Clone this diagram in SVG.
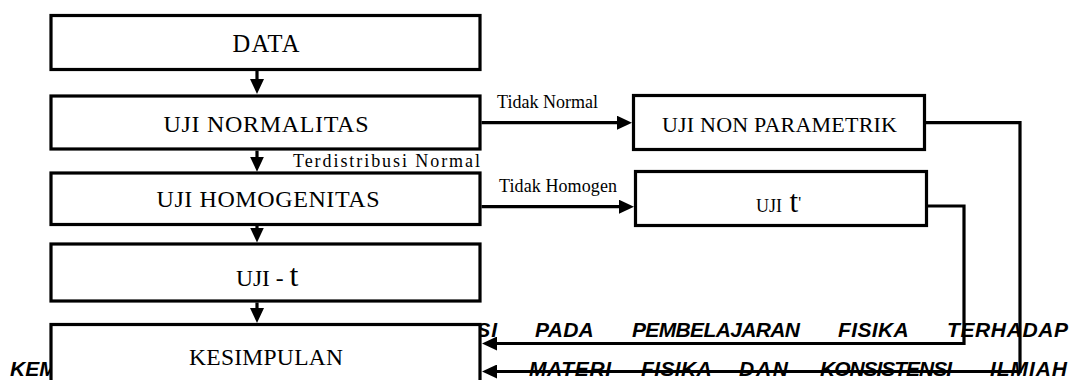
<svg xmlns="http://www.w3.org/2000/svg" width="1070" height="380" viewBox="0 0 1070 380">
  <style>
    .title { font-family: "Liberation Sans", Arial, sans-serif; font-weight: bold; font-style: italic; font-size: 21px; fill: #000; }
    .box { fill: #fff; stroke: #000; stroke-width: 3.2; }
    .label { font-family: "Liberation Serif", "Times New Roman", serif; fill: #000; }
    .edge { fill: none; stroke: #000; stroke-width: 3.2; stroke-linejoin: miter; }
    .elabel { font-family: "Liberation Serif", "Times New Roman", serif; font-size: 18px; fill: #000; }
  </style>
  <defs>
    <marker id="arrow" markerUnits="userSpaceOnUse" markerWidth="15" markerHeight="14" refX="9" refY="7" orient="auto">
      <path d="M0,0 L15,7 L0,14 Z" fill="#000"/>
    </marker>
  </defs>

  <!-- page heading running behind the chart -->
  <g id="heading">
    <text class="title" y="336.5">
      <tspan x="103" textLength="115">PENGARUH</tspan>
      <tspan x="258" textLength="239">MULTIREPRESENTASI</tspan>
      <tspan x="535" textLength="58">PADA</tspan>
      <tspan x="632" textLength="168">PEMBELAJARAN</tspan>
      <tspan x="838" textLength="70">FISIKA</tspan>
      <tspan x="947" textLength="121">TERHADAP</tspan>
    </text>
    <text class="title" y="376">
      <tspan x="10">KEMAMPUAN</tspan>
      <tspan x="529" textLength="82">MATERI</tspan>
      <tspan x="641" textLength="70">FISIKA</tspan>
      <tspan x="739" textLength="49">DAN</tspan>
      <tspan x="820" textLength="132">KONSISTENSI</tspan>
      <tspan x="990" textLength="77">ILMIAH</tspan>
    </text>
  </g>

  <!-- main column -->
  <g id="data">
    <rect class="box" x="51" y="15.5" width="429" height="54"/>
    <text class="label" x="266" y="51.7" font-size="24.5" text-anchor="middle" textLength="67">DATA</text>
  </g>
  <g id="uji-normalitas">
    <rect class="box" x="51" y="96" width="429" height="53"/>
    <text class="label" x="266" y="131.7" font-size="24" text-anchor="middle" textLength="205">UJI NORMALITAS</text>
  </g>
  <g id="uji-homogenitas">
    <rect class="box" x="51" y="173" width="429" height="51.5"/>
    <text class="label" x="268" y="207.3" font-size="24" text-anchor="middle" textLength="223">UJI HOMOGENITAS</text>
  </g>
  <g id="uji-t">
    <rect class="box" x="51" y="244" width="429" height="57"/>
    <text class="label" x="236" y="286"><tspan font-size="23.5">UJI - </tspan><tspan font-size="32">t</tspan></text>
  </g>
  <g id="kesimpulan">
    <rect class="box" x="51" y="324.5" width="429" height="80"/>
    <text class="label" x="266" y="365" font-size="23.5" text-anchor="middle" textLength="154">KESIMPULAN</text>
  </g>

  <!-- side branches -->
  <g id="uji-non-parametrik">
    <rect class="box" x="633.5" y="95.5" width="291" height="54"/>
    <text class="label" x="779.5" y="131.7" font-size="22" text-anchor="middle" textLength="235">UJI NON PARAMETRIK</text>
  </g>
  <g id="uji-t-aksen">
    <rect class="box" x="635.5" y="171.5" width="291" height="54"/>
    <text class="label" x="756" y="211.7"><tspan font-size="18">UJI </tspan><tspan font-size="31" dx="3">t</tspan><tspan font-size="16" dy="-4">'</tspan></text>
  </g>

  <!-- connectors -->
  <g id="connectors">
    <path class="edge" d="M257,71 V88" marker-end="url(#arrow)"/>
    <path class="edge" d="M257,150.7 V165.7" marker-end="url(#arrow)"/>
    <path class="edge" d="M257,225.7 V236.5" marker-end="url(#arrow)"/>
    <path class="edge" d="M257,302.5 V317" marker-end="url(#arrow)"/>
    <path class="edge" d="M481.5,122.7 H626" marker-end="url(#arrow)"/>
    <path class="edge" d="M481.5,206.7 H628" marker-end="url(#arrow)"/>
    <path class="edge" d="M926,122.7 H1020 V371.5 H488" marker-end="url(#arrow)"/>
    <path class="edge" d="M928,206 H964 V343.5 H488" marker-end="url(#arrow)"/>
  </g>
  <g id="connector-labels">
    <text class="elabel" x="497" y="108.3" textLength="101">Tidak Normal</text>
    <text class="elabel" x="499" y="191.7" textLength="118">Tidak Homogen</text>
    <text class="elabel" x="293" y="166.7" font-size="21.5" textLength="187">Terdistribusi Normal</text>
  </g>
</svg>
